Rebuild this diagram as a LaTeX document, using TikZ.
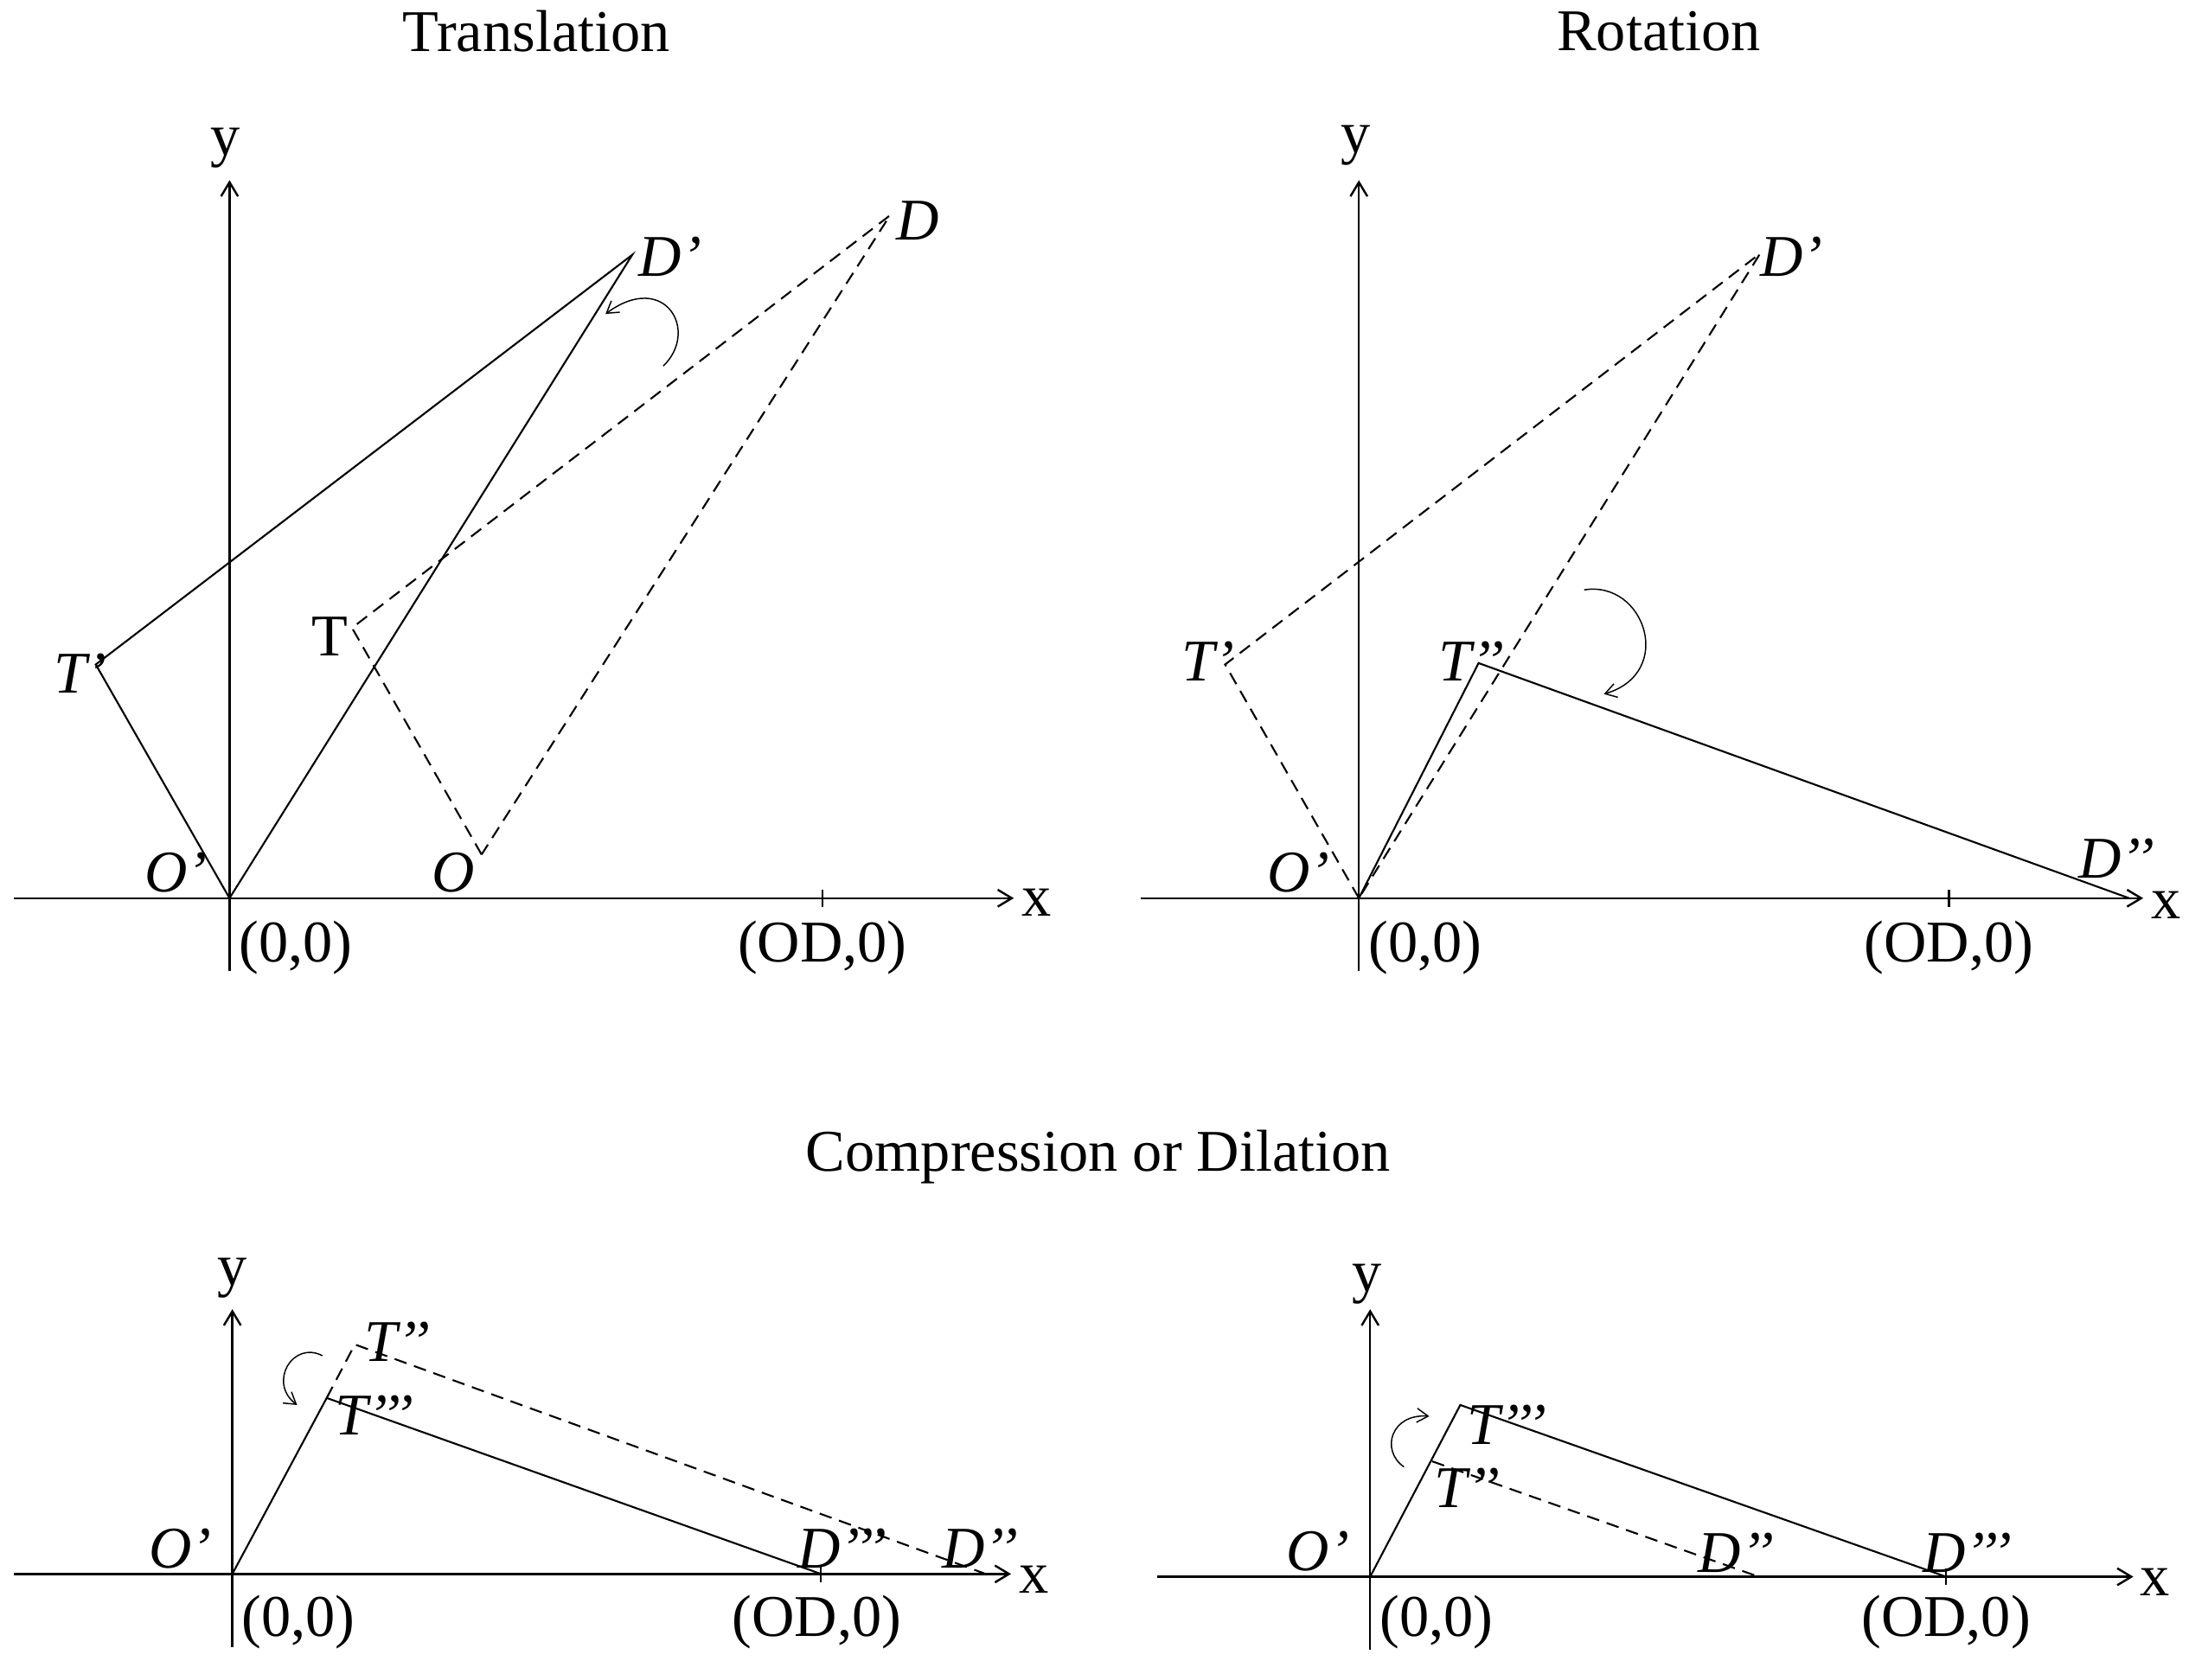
\documentclass[tikz,border=0pt]{standalone}
\usepackage{fontspec}
\setmainfont{Liberation Serif}
\usetikzlibrary{arrows.meta}
\begin{document}
\begin{tikzpicture}[x=0.5pt,y=-0.5pt,
  axis/.style={line width=0.75pt,-{Straight Barb[length=5pt,width=6pt]}},
  tick/.style={line width=0.7pt},
  solidline/.style={line width=0.65pt,line join=miter},
  dashline/.style={line width=0.65pt,dash pattern=on 4.5pt off 2.8pt},
  turn/.style={line width=0.45pt,-{Straight Barb[length=4pt,width=5pt]}},
  lbl/.style={font=\fontsize{21}{24}\selectfont\itshape,inner sep=0pt},
  txt/.style={font=\fontsize{21}{24}\selectfont,inner sep=0pt}]
\useasboundingbox (0,0) rectangle (1568,1193);

% ---------------- Titles
\node[txt] (t1) at (381,22) {Translation};
\node[txt] (t2) at (1178,22) {Rotation};
\node[txt] (t3) at (780,822) {Compression or Dilation};

% ================= Panel 1: Translation
\coordinate (o1) at (163,638);
\coordinate (xa1) at (10,638);  \coordinate (xb1) at (720,638);
\coordinate (ya1) at (163,690); \coordinate (yb1) at (163,128);
\coordinate (k1a) at (584,632); \coordinate (k1b) at (584,644);
\draw[axis] (xa1) -- (xb1);
\draw[axis] (ya1) -- (yb1);
\draw[tick] (k1a) -- (k1b);
\node[txt] (y1) at (160,105) {y};
\node[txt] (x1) at (736,641) {x};
\node[txt] (z1) at (210,673) {(0,0)};
\node[txt] (od1) at (584,673) {(OD,0)};
\coordinate (Tp1) at (68,472);
\coordinate (Dp1) at (449,181);
\coordinate (T1) at (250,446);
\coordinate (D1) at (632,153);
\coordinate (O1) at (342,607);
\draw[solidline] (o1) -- (Tp1) -- (Dp1) -- cycle;
\draw[dashline] (O1) -- (T1) -- (D1) -- cycle;
\node[lbl] (lTp1) at (57,478) {T’};
\node[txt] (lT1) at (234,452) {T};
\node[lbl] (lDp1) at (476,182) {D’};
\node[lbl] (lD1) at (652,157) {D};
\node[lbl] (lOp1) at (125,620) {O’};
\node[lbl] (lO1) at (322,620) {O};
\coordinate (r1a) at (471,260);
\coordinate (r1b) at (430,223);
\draw[turn] (r1a) .. controls (497,235) and (472,192) .. (r1b);

% ================= Panel 2: Rotation
\coordinate (o2) at (965,638);
\coordinate (xa2) at (810,638);  \coordinate (xb2) at (1522,638);
\coordinate (ya2) at (965,690); \coordinate (yb2) at (965,128);
\coordinate (k2a) at (1384,632); \coordinate (k2b) at (1384,644);
\draw[axis] (xa2) -- (xb2);
\draw[axis] (ya2) -- (yb2);
\draw[tick] (k2a) -- (k2b);
\node[txt] (y2) at (963,103) {y};
\node[txt] (x2) at (1538,643) {x};
\node[txt] (z2) at (1012,673) {(0,0)};
\node[txt] (od2) at (1384,673) {(OD,0)};
\coordinate (Tp2) at (870,472);
\coordinate (Dp2) at (1250,180);
\coordinate (Tpp2) at (1050,471);
\coordinate (Dpp2) at (1512,638);
\draw[dashline] (o2) -- (Tp2) -- (Dp2) -- cycle;
\draw[solidline] (o2) -- (Tpp2) -- (Dpp2);
\node[lbl] (lTp2) at (858,470) {T’};
\node[lbl] (lTpp2) at (1045,470) {T’’};
\node[lbl] (lDp2) at (1272,182) {D’};
\node[lbl] (lDpp2) at (1503,610) {D’’};
\node[lbl] (lOp2) at (922,620) {O’};
\coordinate (r2a) at (1125,419);
\coordinate (r2b) at (1139,493);
\draw[turn] (r2a) .. controls (1168,412) and (1190,478) .. (r2b);

% ================= Panel 3: Compression
\coordinate (o3) at (165,1118);
\coordinate (xa3) at (10,1118);  \coordinate (xb3) at (718,1118);
\coordinate (ya3) at (165,1170); \coordinate (yb3) at (165,930);
\coordinate (k3a) at (583,1112); \coordinate (k3b) at (583,1124);
\draw[axis] (xa3) -- (xb3);
\draw[axis] (ya3) -- (yb3);
\draw[tick] (k3a) -- (k3b);
\node[txt] (y3) at (165,908) {y};
\node[txt] (x3) at (734,1122) {x};
\node[txt] (z3) at (212,1152) {(0,0)};
\node[txt] (od3) at (580,1152) {(OD,0)};
\coordinate (Tpp3) at (252,955);
\coordinate (Dpp3) at (700,1118);
\coordinate (Tppp3) at (232,993);
\coordinate (Dppp3) at (583,1118);
\draw[dashline] (Tppp3) -- (Tpp3) -- (Dpp3);
\draw[solidline] (o3) -- (Tppp3) -- (Dppp3);
\node[lbl] (lTpp3) at (282,953) {T’’};
\node[lbl] (lTppp3) at (266,1005) {T’’’};
\node[lbl] (lDppp3) at (598,1100) {D’’’};
\node[lbl] (lDpp3) at (696,1100) {D’’};
\node[lbl] (lOp3) at (128,1100) {O’};
\coordinate (r3a) at (229,963);
\coordinate (r3b) at (211,998);
\draw[turn] (r3a) .. controls (208,952) and (190,982) .. (r3b);

% ================= Panel 4: Dilation
\coordinate (o4) at (973,1120);
\coordinate (xa4) at (822,1120);  \coordinate (xb4) at (1515,1120);
\coordinate (ya4) at (973,1172); \coordinate (yb4) at (973,930);
\coordinate (k4a) at (1382,1114); \coordinate (k4b) at (1382,1126);
\draw[axis] (xa4) -- (xb4);
\draw[axis] (ya4) -- (yb4);
\draw[tick] (k4a) -- (k4b);
\node[txt] (y4) at (971,912) {y};
\node[txt] (x4) at (1530,1124) {x};
\node[txt] (z4) at (1020,1152) {(0,0)};
\node[txt] (od4) at (1382,1152) {(OD,0)};
\coordinate (Tppp4) at (1037,998);
\coordinate (Dppp4) at (1382,1120);
\coordinate (Tpp4) at (1017,1038);
\coordinate (Dpp4) at (1249,1120);
\draw[solidline] (o4) -- (Tppp4) -- (Dppp4);
\draw[dashline] (Tpp4) -- (Dpp4);
\node[lbl] (lTppp4) at (1070,1012) {T’’’};
\node[lbl] (lTpp4) at (1042,1057) {T’’};
\node[lbl] (lDpp4) at (1233,1103) {D’’};
\node[lbl] (lDppp4) at (1397,1103) {D’’’};
\node[lbl] (lOp4) at (936,1102) {O’};
\coordinate (r4a) at (997,1042);
\coordinate (r4b) at (1015,1006);
\draw[turn] (r4a) .. controls (980,1030) and (988,1004) .. (r4b);
\end{tikzpicture}
\end{document}
